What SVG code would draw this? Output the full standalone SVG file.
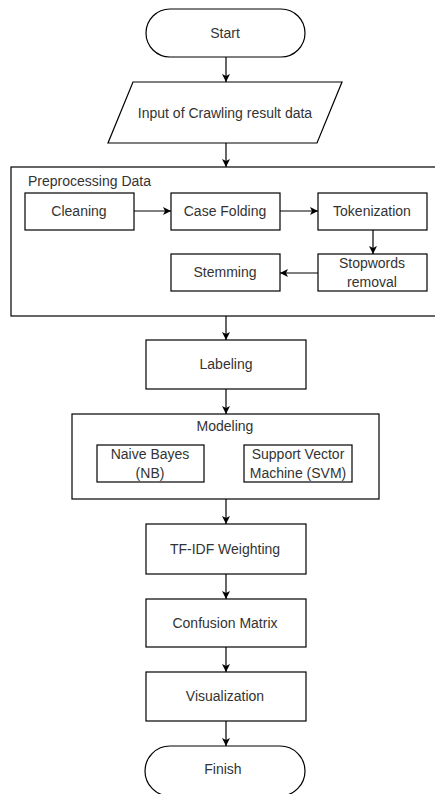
<svg xmlns="http://www.w3.org/2000/svg" width="435" height="794" viewBox="0 0 435 794">
<defs>
<marker id="ah" viewBox="0 0 10 10" refX="10" refY="5" markerWidth="8" markerHeight="8" markerUnits="userSpaceOnUse" orient="auto">
<path d="M0,0 L10,5 L0,10 L2.5,5 Z" fill="#000"/>
</marker>
<style>
.s{fill:#fff;stroke:#000;stroke-width:1.2}
.c{fill:none;stroke:#000;stroke-width:1.2;marker-end:url(#ah)}
text{font-family:"Liberation Sans",Arial,sans-serif;font-size:14px;fill:#333}
.m{text-anchor:middle;dominant-baseline:central}
</style>
</defs>
<rect width="435" height="794" fill="#fff"/>
<g id="preprocessing">
<rect class="s" x="11" y="167" width="432" height="149"/>
<text x="28" y="181" dominant-baseline="central">Preprocessing Data</text>
</g>
<g id="modeling">
<rect class="s" x="72" y="414" width="307" height="85"/>
<text class="m" x="225" y="426">Modeling</text>
</g>
<g id="start">
<rect class="s" x="146" y="9" width="159" height="48" rx="24"/>
<text class="m" x="225" y="33">Start</text>
</g>
<g id="input">
<path class="s" d="M133,82 L342,82 L317,143 L108,143 Z"/>
<text class="m" x="225" y="113">Input of Crawling result data</text>
</g>
<g id="cleaning">
<rect class="s" x="25" y="193" width="109" height="37"/>
<text class="m" x="79" y="211">Cleaning</text>
</g>
<g id="casefolding">
<rect class="s" x="171" y="193" width="109" height="37"/>
<text class="m" x="225" y="211">Case Folding</text>
</g>
<g id="tokenization">
<rect class="s" x="318" y="193" width="109" height="37"/>
<text class="m" x="372" y="211">Tokenization</text>
</g>
<g id="stopwords">
<rect class="s" x="318" y="254" width="109" height="37"/>
<text class="m" x="372" y="263">Stopwords</text>
<text class="m" x="372" y="282">removal</text>
</g>
<g id="stemming">
<rect class="s" x="171" y="254" width="109" height="37"/>
<text class="m" x="225" y="272">Stemming</text>
</g>
<g id="labeling">
<rect class="s" x="146" y="340" width="160" height="49"/>
<text class="m" x="226" y="364">Labeling</text>
</g>
<g id="nb">
<rect class="s" x="97" y="445" width="107" height="37"/>
<text class="m" x="150" y="454">Naive Bayes</text>
<text class="m" x="150" y="473">(NB)</text>
</g>
<g id="svm">
<rect class="s" x="244" y="445" width="108" height="37"/>
<text class="m" x="298" y="454">Support Vector</text>
<text class="m" x="298" y="473">Machine (SVM)</text>
</g>
<g id="tfidf">
<rect class="s" x="146" y="524" width="160" height="50"/>
<text class="m" x="225" y="549">TF-IDF Weighting</text>
</g>
<g id="confusion">
<rect class="s" x="146" y="599" width="160" height="48"/>
<text class="m" x="225" y="623">Confusion Matrix</text>
</g>
<g id="visualization">
<rect class="s" x="146" y="672" width="160" height="49"/>
<text class="m" x="225" y="696">Visualization</text>
</g>
<g id="finish">
<rect class="s" x="145" y="746" width="160" height="50" rx="25"/>
<text class="m" x="223" y="769">Finish</text>
</g>
<g id="connectors">
<path class="c" d="M226,57 L226,82"/>
<path class="c" d="M226,143 L226,167"/>
<path class="c" d="M134,211 L171,211"/>
<path class="c" d="M280,211 L318,211"/>
<path class="c" d="M373,230 L373,254"/>
<path class="c" d="M318,273 L280,273"/>
<path class="c" d="M226,316 L226,340"/>
<path class="c" d="M226,389 L226,414"/>
<path class="c" d="M226,499 L226,524"/>
<path class="c" d="M226,574 L226,599"/>
<path class="c" d="M226,647 L226,672"/>
<path class="c" d="M226,721 L226,746"/>
</g>
</svg>
